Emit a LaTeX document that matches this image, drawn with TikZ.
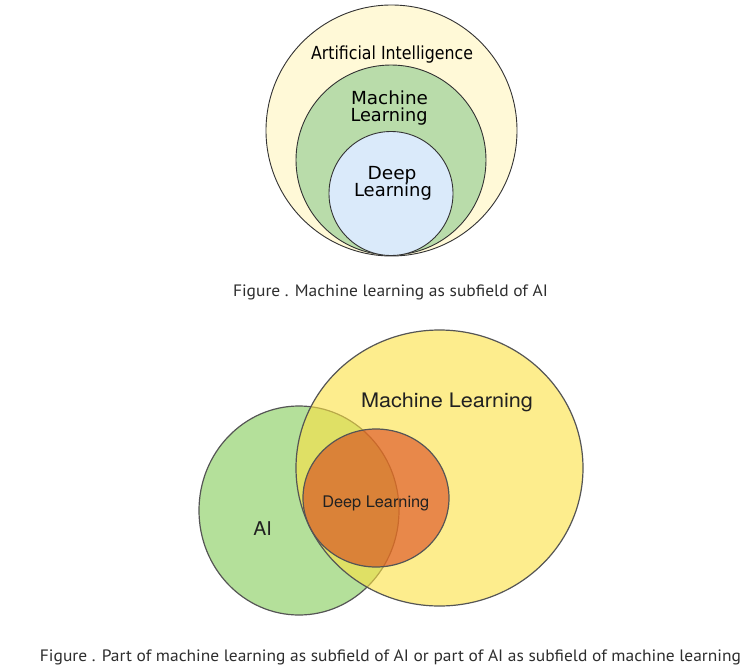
\documentclass[tikz,border=0pt]{standalone}
\usepackage{fontspec}
\usepackage{graphicx}
\usetikzlibrary{shapes.geometric}
\newfontfamily\dvsfont{DejaVu Sans}
\newfontfamily\helfont{TeX Gyre Heros}
\newfontfamily\capfont{PT Sans}
\definecolor{aiouter}{HTML}{FFF9D7}
\definecolor{mlgreen}{HTML}{B9DCAA}
\definecolor{dlblue}{HTML}{DAEAFA}
\definecolor{topline}{HTML}{333333}
\definecolor{vgreen}{HTML}{B4E09A}
\definecolor{vyellow}{RGB}{252,225,66}
\definecolor{vorange}{RGB}{215,54,20}
\definecolor{vline}{HTML}{555555}
\definecolor{captxt}{HTML}{2E2E2E}
\newcommand{\fitw}[2]{\resizebox{#1}{\height}{#2}}
\tikzset{
  topcirc/.style={circle, draw=topline, line width=0.9pt, inner sep=0pt},
  vennell/.style={ellipse, draw=vline, line width=1.2pt, inner sep=0pt},
  toptext/.style={anchor=base, inner sep=0pt, text=black, font=\dvsfont\fontsize{18}{18}\selectfont},
  venntext/.style={anchor=base, inner sep=0pt, text=black!87},
  captext/.style={anchor=base, inner sep=0pt, text=captxt, font=\capfont\fontsize{16.5}{16.5}\selectfont}
}
\begin{document}
\begin{tikzpicture}[x=1pt,y=-1pt]
\useasboundingbox (0,0) rectangle (755,667);
\fill[white] (0,0) rectangle (755,667);
% top nested circles
\node[topcirc, fill=aiouter, minimum size=251pt] (ai) at (391.5,130.5) {};
\node[topcirc, fill=mlgreen, minimum size=190pt] (ml) at (391,160) {};
\node[topcirc, fill=dlblue, minimum size=124pt] (dl) at (391,193.5) {};
\node[toptext] (aitext) at (392,59) {\fitw{162pt}{Artificial Intelligence}};
\node[toptext] (mltext1) at (389.5,104.3) {\fitw{77pt}{Machine}};
\node[toptext] (mltext2) at (389,121) {\fitw{77pt}{Learning}};
\node[toptext] (dltext1) at (392,179.3) {\fitw{49pt}{Deep}};
\node[toptext] (dltext2) at (393,196) {\fitw{78pt}{Learning}};
\node[captext] (cap1) at (390.5,296.5) {\fitw{315pt}{Figure . Machine learning as subfield of AI}};
% bottom Venn
\node[vennell, fill=vgreen, minimum width=200pt, minimum height=209pt] (vai) at (299,510.5) {};
\node[vennell, fill=vyellow, fill opacity=0.6, minimum width=287pt, minimum height=276pt] (vml) at (439.5,468) {};
\node[vennell, fill=vorange, fill opacity=0.55, minimum width=146pt, minimum height=138pt] (vdl) at (376,498) {};
\node[venntext, font=\helfont\fontsize{20}{20}\selectfont] (vmltext) at (447,407.7) {\fitw{172pt}{Machine Learning}};
\node[venntext, font=\helfont\fontsize{16}{16}\selectfont] (vdltext) at (375.8,507.3) {\fitw{107pt}{Deep Learning}};
\node[venntext, font=\helfont\fontsize{19}{19}\selectfont] (vaitext) at (262.5,535) {\fitw{18.4pt}{AI}};
\node[captext] (cap2) at (390.5,661.7) {\fitw{701pt}{Figure . Part of machine learning as subfield of AI or part of AI as subfield of machine learning}};
\end{tikzpicture}
\end{document}
